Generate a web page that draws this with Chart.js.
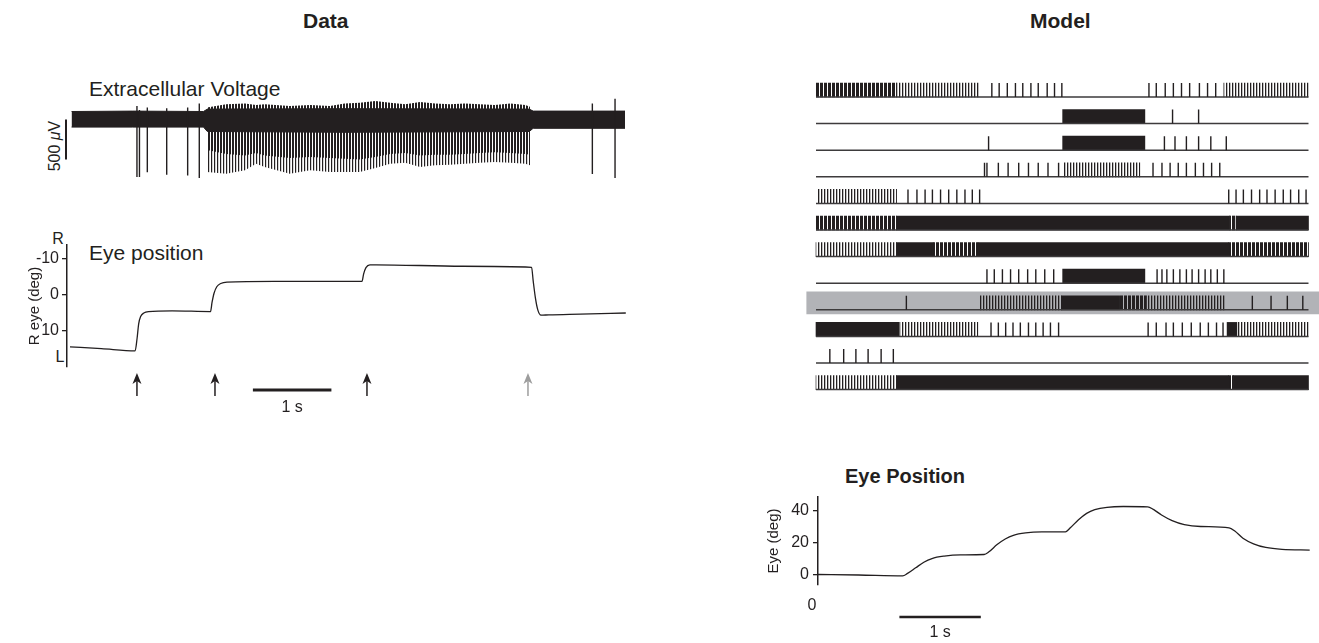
<!DOCTYPE html>
<html>
<head>
<meta charset="utf-8">
<script src="https://cdn.jsdelivr.net/npm/chart.js@4.4.1/dist/chart.umd.min.js"></script>
<style>
  html, body { margin: 0; padding: 0; background: #fff; }
  body { width: 1319px; height: 643px; position: relative; overflow: hidden;
         font-family: "Liberation Sans", Arial, sans-serif; color: #231f20; }
  canvas { position: absolute; }
  .txt { position: absolute; white-space: nowrap; line-height: 1; color: #231f20; }
  .bold { font-weight: bold; }
  .rot { transform: translate(-50%, -50%) rotate(-90deg); }
  .ctr { transform: translate(-50%, -50%); }
</style>
</head>
<body>
<div class="txt bold" style="left:303px; top:10px; font-size:21px;">Data</div>
<div class="txt bold" style="left:1030px; top:10px; font-size:21px;">Model</div>
<div class="txt" style="left:89px; top:78px; font-size:21px;">Extracellular Voltage</div>
<div class="txt rot" style="left:55px; top:146px; font-size:16px;">500 <i>μ</i>V</div>
<div class="txt" style="left:89px; top:242px; font-size:21px;">Eye position</div>
<div class="txt ctr" style="left:58px; top:239px; font-size:16px;">R</div>
<div class="txt ctr" style="left:60px; top:357px; font-size:16px;">L</div>
<div class="txt bold" style="left:845px; top:466px; font-size:20px;">Eye Position</div>

<canvas id="volt" width="600" height="95" style="left:40px; top:95px"></canvas>
<canvas id="eyeL" width="620" height="190" style="left:20px; top:230px"></canvas>
<canvas id="raster" width="519" height="340" style="left:800px; top:70px"></canvas>
<canvas id="eyeM" width="559" height="153" style="left:760px; top:490px"></canvas>

<script>
// ---------- Data panel: extracellular voltage (time in s, voltage in uV) ----------
const noiseTimes = [0.02, 0.8, 1.7, 1.75, 3.5, 5.85, 5.9, 7.07];
const noiseUpper = [100, 105, 100, 130, 135, 130, 105, 105];
const noiseLower = [-95, -95, -95, -150, -160, -150, -110, -110];

// envelope of the dense firing epoch
const burstTimes = [1.745, 1.99, 2.23, 2.37, 2.48, 2.80, 3.06, 3.31, 3.50, 3.69, 3.89,
                    4.08, 4.27, 4.46, 4.65, 4.84, 5.03, 5.22, 5.41, 5.61, 5.80, 5.86];
const burstTipsUp = [150, 190, 200, 180, 190, 170, 180, 170, 200, 210, 230,
                     210, 190, 220, 200, 190, 200, 190, 180, 200, 180, 160];
const burstCoreLow = [-380, -430, -450, -420, -450, -480, -470, -480, -490, -500, -470,
                      -430, -420, -450, -440, -440, -430, -420, -410, -420, -430, -440];
const burstTipsLow = [-656, -677, -635, -552, -594, -677, -635, -656, -656, -656, -606,
                      -552, -540, -594, -573, -565, -552, -540, -531, -540, -552, -573];

// isolated spikes outside the burst
const spikeTimesV = [0.853, 0.885, 0.985, 1.232, 1.499, 1.647, 6.654, 6.943];
const spikeUpV = [170, 120, 150, 140, 150, 200, 200, 260];
const spikeDownV = [-720, -720, -660, -690, -700, -730, -680, -730];
const voltScaleBar = [0, -500];

// ---------- Data panel: eye position (deg, negative = right) ----------
const eyeTimes = [0, 0.4, 0.83, 0.855, 0.875, 0.9, 0.94, 1.0, 1.3, 1.79, 1.81, 1.835, 1.87,
                  1.92, 2.0, 2.6, 3.72, 3.74, 3.77, 3.82, 3.9, 5.0, 5.88, 5.9, 5.93, 5.96,
                  6.0, 6.1, 6.5, 7.08];
const eyeDeg = [14.4, 14.9, 15.5, 12, 8, 6, 5.0, 4.6, 4.4, 4.6, 2, -0.5, -2.3,
                -3.2, -3.6, -3.8, -3.8, -5.8, -7.6, -8.4, -8.4, -8.0, -7.7, -4, 1, 4.2,
                5.6, 5.5, 5.3, 5.0];
const eyeTicksL = [-10, 0, 10];
const arrowTimes = [0.853, 1.847, 3.783, 5.834];
const scaleBarL = [2.33, 3.33];

// ---------- Model panel: spike rasters (time in s), 12 neurons ----------
const rasterSpan = [0, 6.05];
const rowSpikes = [
  [2.16, 2.25, 2.35, 2.45, 2.54, 2.64, 2.73, 2.84, 2.93, 3.02, 4.09, 4.18, 4.29, 4.39, 4.49, 4.59, 4.71, 4.81, 4.91],
  [4.38, 4.70],
  [2.12, 4.28, 4.41, 4.55, 4.70, 4.85, 5.04],
  [2.07, 2.10, 2.24, 2.36, 2.49, 2.61, 2.73, 2.85, 2.98, 4.14, 4.25, 4.35, 4.45, 4.55, 4.66, 4.76, 4.86, 4.96],
  [1.13, 1.24, 1.34, 1.43, 1.53, 1.63, 1.73, 1.83, 1.92, 2.01, 5.07, 5.16, 5.25, 5.35, 5.45, 5.54, 5.64, 5.74, 5.83, 5.93, 6.02],
  [],
  [],
  [2.10, 2.19, 2.29, 2.39, 2.49, 2.60, 2.70, 2.81, 2.92, 4.19, 4.25, 4.31, 4.39, 4.47, 4.55, 4.62, 4.70, 4.78, 4.85, 4.93, 5.01],
  [1.11, 5.36, 5.59, 5.79, 5.98],
  [2.15, 2.24, 2.33, 2.42, 2.51, 2.61, 2.70, 2.79, 2.88, 2.98, 4.08, 4.18, 4.30, 4.39, 4.50, 4.61, 4.72, 4.82, 4.92, 5.00],
  [0.17, 0.34, 0.49, 0.64, 0.80, 0.95],
  []
];
// epochs of firing too fast to resolve single spikes
const rowSolid = [
  [], [[3.03, 4.04]], [[3.03, 4.04]], [], [],
  [[0.99, 5.08], [5.16, 6.05]],
  [[0.99, 1.44], [1.99, 5.07]],
  [[3.03, 4.04]],
  [[3.02, 3.73]],
  [[0, 1.02], [5.05, 5.17]],
  [],
  [[0.99, 5.07], [5.13, 6.05]]
];
const rowDense = [
  [[0, 0.99]], [], [], [], [],
  [[0, 0.99], [5.08, 5.16]],
  [[1.44, 1.99], [5.07, 6.05]],
  [],
  [[3.73, 4.06]],
  [], [],
  [[5.07, 5.13]]
];
const rowModerate = [
  [[0.99, 2.0], [5.01, 6.05]], [], [],
  [[3.04, 3.98]],
  [[0.02, 0.99]],
  [],
  [[0, 0.99]],
  [],
  [[2.01, 3.02], [4.08, 5.02]],
  [[1.03, 1.99], [5.17, 6.05]],
  [],
  [[0, 0.99]]
];
const highlightRow = 8;

// ---------- Model panel: eye position (deg) ----------
const modelTimes = [0, 0.5, 1.04, 1.1, 1.2, 1.3, 1.4, 1.55, 1.75, 2.04, 2.1, 2.2, 2.3, 2.4, 2.55,
                    2.75, 3.04, 3.1, 3.2, 3.3, 3.4, 3.55, 3.75, 4.05, 4.12, 4.22, 4.35, 4.5,
                    4.7, 5.05, 5.12, 5.22, 5.35, 5.5, 5.7, 6.04];
const modelDeg = [0.3, 0, -0.5, 1, 4.5, 8, 10.3, 11.8, 12.6, 12.8, 14.5, 19, 22.5, 24.8, 26.3,
                  26.9, 27, 29.5, 34.5, 38.5, 40.8, 42.3, 42.8, 42.6, 41, 37.5, 34, 31.5,
                  30.3, 29.5, 27.5, 23, 19.5, 17.2, 16, 15.6];
const eyeTicksM = [0, 20, 40];
const timeTicksM = [0];
const scaleBarM = [1, 2];

// ---------------------------------------------------------------------------------
const INK = "#231f20";
const FONT = '"Liberation Sans", Arial, sans-serif';
Chart.defaults.font.family = FONT;
Chart.defaults.color = INK;

const pts = (xs, ys) => xs.map((x, i) => ({ x: x, y: ys[i] }));

function stripes(period, ink) {
  const c = document.createElement("canvas");
  c.width = period;
  c.height = 8;
  const g = c.getContext("2d");
  g.fillStyle = INK;
  g.fillRect(0, 0, ink, 8);
  return g.createPattern(c, "repeat");
}

const baseOptions = {
  responsive: false,
  animation: false,
  devicePixelRatio: 1,
  events: [],
  plugins: { legend: { display: false }, tooltip: { enabled: false } }
};

// ----- voltage trace -----
const spikePtsV = [];
spikeTimesV.forEach(function(t, i) {
  spikePtsV.push({ x: t, y: spikeUpV[i] }, { x: t, y: spikeDownV[i] }, { x: t, y: null });
});

const noLine = { borderColor: "rgba(0,0,0,0)", borderWidth: 0, pointRadius: 0 };

const voltBar = {
  id: "voltBar",
  afterDatasetsDraw(chart) {
    const { ctx, scales: { y } } = chart;
    ctx.save();
    ctx.strokeStyle = INK;
    ctx.lineWidth = 2;
    ctx.beginPath();
    ctx.moveTo(26, y.getPixelForValue(voltScaleBar[0]));
    ctx.lineTo(26, y.getPixelForValue(voltScaleBar[1]));
    ctx.stroke();
    ctx.restore();
  }
};

new Chart(document.getElementById("volt"), {
  type: "line",
  data: {
    datasets: [
      { data: spikePtsV, borderColor: INK, borderWidth: 1.4, pointRadius: 0, fill: false },
      { data: pts(noiseTimes, noiseUpper), borderColor: INK, borderWidth: 1, pointRadius: 0,
        fill: "+1", backgroundColor: INK },
      { data: pts(noiseTimes, noiseLower), borderColor: INK, borderWidth: 1, pointRadius: 0, fill: false },
      Object.assign({ data: pts(burstTimes, burstCoreLow), fill: { value: 0 }, backgroundColor: stripes(3, 2) }, noLine),
      Object.assign({ data: pts(burstTimes, burstTipsLow), fill: { value: 0 }, backgroundColor: stripes(3, 1.2) }, noLine),
      Object.assign({ data: pts(burstTimes, burstTipsUp), fill: { value: 0 }, backgroundColor: stripes(3, 2) }, noLine)
    ]
  },
  options: Object.assign({}, baseOptions, {
    layout: { padding: 0 },
    scales: {
      x: { type: "linear", display: false, min: -0.382, max: 7.261 },
      y: { type: "linear", display: false, min: -881.25, max: 306.25 }
    }
  }),
  plugins: [voltBar]
});

// ----- recorded eye position -----
function drawArrow(ctx, x, yTop, yBot, color) {
  ctx.strokeStyle = color;
  ctx.fillStyle = color;
  ctx.lineWidth = 1.5;
  ctx.beginPath();
  ctx.moveTo(x, yTop + 6);
  ctx.lineTo(x, yBot);
  ctx.stroke();
  ctx.beginPath();
  ctx.moveTo(x, yTop);
  ctx.lineTo(x + 4.5, yTop + 11);
  ctx.lineTo(x, yTop + 8);
  ctx.lineTo(x - 4.5, yTop + 11);
  ctx.closePath();
  ctx.fill();
}

const leftDecor = {
  id: "leftDecor",
  afterDatasetsDraw(chart) {
    const { ctx, scales: { x }, chartArea } = chart;
    const b = chartArea.bottom;
    ctx.save();
    // the last arrow marks the return saccade, drawn in grey
    arrowTimes.forEach(function(t, i) {
      drawArrow(ctx, x.getPixelForValue(t), b + 6, b + 29, i === arrowTimes.length - 1 ? "#9d9d9d" : INK);
    });
    ctx.strokeStyle = INK;
    ctx.lineWidth = 3;
    ctx.beginPath();
    ctx.moveTo(x.getPixelForValue(scaleBarL[0]), b + 23);
    ctx.lineTo(x.getPixelForValue(scaleBarL[1]), b + 23);
    ctx.stroke();
    ctx.fillStyle = INK;
    ctx.font = "16px " + FONT;
    ctx.textAlign = "center";
    ctx.textBaseline = "middle";
    ctx.fillText("1 s", (x.getPixelForValue(scaleBarL[0]) + x.getPixelForValue(scaleBarL[1])) / 2, b + 41);
    ctx.restore();
  }
};

new Chart(document.getElementById("eyeL"), {
  type: "line",
  data: {
    datasets: [{
      data: pts(eyeTimes, eyeDeg), borderColor: INK, borderWidth: 1.3, pointRadius: 0,
      cubicInterpolationMode: "monotone", fill: false
    }]
  },
  options: Object.assign({}, baseOptions, {
    layout: { padding: { top: 15, right: 13.5, bottom: 53, left: 0 } },
    scales: {
      x: { type: "linear", display: false, min: -0.038, max: 7.089 },
      y: {
        type: "linear", reverse: true, min: -13.9, max: 20,
        afterBuildTicks: function(s) { s.ticks = eyeTicksL.map(v => ({ value: v })); },
        afterFit: function(s) { s.width = 47; s.paddingTop = 0; s.paddingBottom = 0; },
        grid: { drawOnChartArea: false, drawTicks: true, tickLength: 5, color: INK, lineWidth: 1.3 },
        border: { display: true, color: INK, width: 1.5 },
        ticks: { padding: 3, font: { size: 16 }, color: INK },
        title: { display: true, text: "R eye (deg)", font: { size: 15 }, color: INK, padding: { top: 6, bottom: 0 } }
      }
    }
  }),
  plugins: [leftDecor]
});

// ----- model rasters -----
const tickH = 0.526;   // spike tick height in row units (about 14 px)
const spikePts = [];
rowSpikes.forEach(function(times, r) {
  times.forEach(function(t) {
    spikePts.push({ x: t, y: r }, { x: t, y: r - tickH }, { x: t, y: null });
  });
});
const baselinePts = [];
rowSpikes.forEach(function(_, r) {
  baselinePts.push({ x: rasterSpan[0], y: r }, { x: rasterSpan[1], y: r }, { x: rasterSpan[1], y: null });
});
const blocks = rows => rows.flatMap((list, r) => list.map(iv => ({ x: iv, y: r - tickH / 2 })));

const barCommon = { type: "bar", indexAxis: "y", grouped: false, borderWidth: 0, barThickness: 14, order: 1 };

new Chart(document.getElementById("raster"), {
  type: "line",
  data: {
    datasets: [
      { type: "line", data: spikePts, borderColor: INK, borderWidth: 1.4, pointRadius: 0, fill: false, order: 0 },
      { type: "line", data: baselinePts, borderColor: "#3d3b3c", borderWidth: 1.5, pointRadius: 0, fill: false, order: 0 },
      Object.assign({}, barCommon, { data: blocks(rowSolid), backgroundColor: INK }),
      Object.assign({}, barCommon, { data: blocks(rowDense), backgroundColor: stripes(4, 3) }),
      Object.assign({}, barCommon, { data: blocks(rowModerate), backgroundColor: stripes(3, 1.3) }),
      Object.assign({}, barCommon, {
        data: [{ x: [-0.114, 6.18], y: highlightRow - 0.26 }],
        barThickness: 22.3, backgroundColor: "#b2b3b7", order: 3
      })
    ]
  },
  options: Object.assign({}, baseOptions, {
    layout: { padding: 0 },
    scales: {
      x: { type: "linear", display: false, offset: false, min: -0.1966, max: 6.179 },
      y: { type: "linear", display: false, offset: false, reverse: true, min: -1.015, max: 11.767 }
    }
  })
});

// ----- model eye position -----
const modelDecor = {
  id: "modelDecor",
  afterDatasetsDraw(chart) {
    const { ctx, scales: { x }, chartArea } = chart;
    const b = chartArea.bottom;
    const x0 = x.getPixelForValue(scaleBarM[0]);
    const x1 = x.getPixelForValue(scaleBarM[1]);
    ctx.save();
    ctx.strokeStyle = INK;
    ctx.lineWidth = 2.5;
    ctx.beginPath();
    ctx.moveTo(x0, b + 32);
    ctx.lineTo(x1, b + 32);
    ctx.stroke();
    ctx.fillStyle = INK;
    ctx.font = "16px " + FONT;
    ctx.textAlign = "center";
    ctx.textBaseline = "middle";
    ctx.fillText("1 s", (x0 + x1) / 2, b + 48);
    ctx.restore();
  }
};

new Chart(document.getElementById("eyeM"), {
  type: "line",
  data: {
    datasets: [{
      data: pts(modelTimes, modelDeg), borderColor: INK, borderWidth: 1.3, pointRadius: 0,
      cubicInterpolationMode: "monotone", fill: false
    }]
  },
  options: Object.assign({}, baseOptions, {
    layout: { padding: { top: 7, right: 8.5, bottom: 0, left: 0 } },
    scales: {
      x: {
        type: "linear", min: 0, max: 6.05,
        afterBuildTicks: function(s) { s.ticks = timeTicksM.map(v => ({ value: v })); },
        afterFit: function(s) { s.height = 58; s.paddingLeft = 0; s.paddingRight = 0; },
        grid: { display: false, drawTicks: false },
        border: { display: false },
        ticks: { padding: 11, font: { size: 16 }, color: INK, labelOffset: -6, maxRotation: 0, autoSkip: false }
      },
      y: {
        type: "linear", min: -6.25, max: 48.75,
        afterBuildTicks: function(s) { s.ticks = eyeTicksM.map(v => ({ value: v })); },
        afterFit: function(s) { s.width = 58; s.paddingTop = 0; s.paddingBottom = 0; },
        grid: { drawOnChartArea: false, drawTicks: true, tickLength: 5, color: INK, lineWidth: 1.3 },
        border: { display: true, color: INK, width: 1.5 },
        ticks: { padding: 4, font: { size: 16 }, color: INK },
        title: { display: true, text: "Eye (deg)", font: { size: 15 }, color: INK, padding: { top: 5, bottom: 0 } }
      }
    }
  }),
  plugins: [modelDecor]
});
</script>
</body>
</html>
